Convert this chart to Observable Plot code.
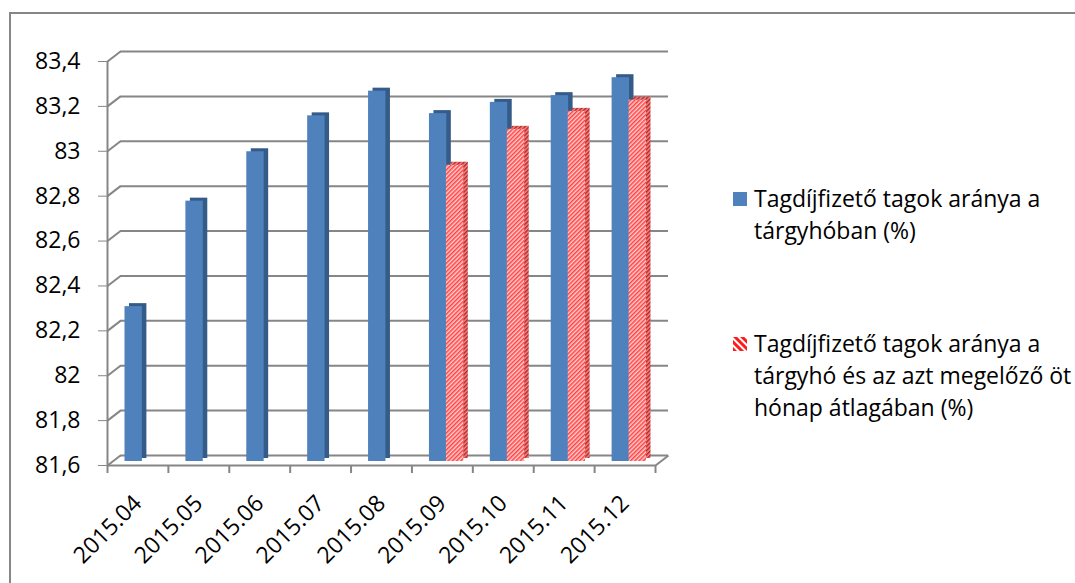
<!DOCTYPE html>
<html><head><meta charset="utf-8">
<script src="https://cdn.jsdelivr.net/npm/d3@7"></script>
<script src="https://cdn.jsdelivr.net/npm/@observablehq/plot@0.6"></script>
<style>
body{margin:0;background:#fff;font-family:"Open Sans", sans-serif;}
#frame{position:absolute;left:9px;top:12px;width:1090px;height:620px;border:2px solid #868686;box-sizing:border-box;}
#chart{position:absolute;left:0;top:0;}
#chart svg text{fill:#000;}
.legend-item{position:absolute;left:733px;display:flex;align-items:flex-start;}
.sw{width:14px;height:14px;margin-top:10px;margin-right:7px;flex:none;display:block}
.lt{width:320px;font-size:23px;line-height:32px;color:#000}
</style></head><body>
<div id="frame"></div>
<div id="chart"></div>
<div id="legend"></div>
<script>
// ---- data ----
const months = ["2015.04","2015.05","2015.06","2015.07","2015.08","2015.09","2015.10","2015.11","2015.12"];
const seriesMonthly = [82.29, 82.76, 82.98, 83.14, 83.25, 83.15, 83.20, 83.23, 83.31];
const seriesSixMonth = [null, null, null, null, null, 82.92, 83.08, 83.16, 83.21];
const seriesNames = [
  "Tagdíjfizető tagok aránya a tárgyhóban (%)",
  "Tagdíjfizető tagok aránya a tárgyhó és az azt megelőző öt hónap átlagában (%)"
];
const yTicks = [81.6, 81.8, 82, 82.2, 82.4, 82.6, 82.8, 83, 83.2, 83.4];
const yTickLabels = ["81,6","81,8","82","82,2","82,4","82,6","82,8","83","83,2","83,4"];

// ---- layout ----
const W = 700, H = 583, mL = 107, mR = 45, mT = 61, mB = 118;
const yMin = yTicks[0], yMax = yTicks[yTicks.length - 1];
const n = months.length;
const kx = n / (W - mL - mR);            // data units per px (x)
const ky = (yMax - yMin) / (H - mT - mB); // data units per px (y)
const DX = 13, DY = 10;                    // 3D depth in px
const grid = "#868686";

const rows = months.map((m, i) => ({i, m, a: seriesMonthly[i], b: seriesSixMonth[i]}));
const rowsB = rows.filter(d => d.b != null);

const barA = {x1: d => d.i, x2: d => d.i + 1, y1: () => yMin, y2: d => d.a, insetLeft: 13.5, insetRight: 30};
const barB = {x1: d => d.i, x2: d => d.i + 1, y1: () => yMin, y2: d => d.b, insetLeft: 30.5, insetRight: 13};

const chart = Plot.plot({
  width: W, height: H,
  marginLeft: mL, marginRight: mR, marginTop: mT, marginBottom: mB,
  style: {fontSize: "23px", fontFamily: "'Open Sans', sans-serif", color: grid, background: "transparent"},
  x: {domain: [0, n], ticks: months.map((m, i) => i + 0.5),
      tickFormat: v => months[Math.floor(v)], tickRotate: -45, tickSize: 0, tickPadding: 34, label: null},
  y: {domain: [yMin, yMax], ticks: yTicks,
      tickFormat: v => yTickLabels[yTicks.findIndex(t => Math.abs(t - v) < 1e-9)],
      tickSize: 9, tickPadding: 18, label: null},
  marks: [
    // back wall gridlines
    Plot.ruleY(yTicks, {dx: DX, dy: -DY, stroke: grid, strokeWidth: 2}),
    // left wall diagonals
    Plot.link(yTicks, {x1: () => 0, x2: () => DX * kx, y1: d => d, y2: d => d + DY * ky, stroke: grid, strokeWidth: 2}),
    // floor right edge
    Plot.link([yMin], {x1: () => n, x2: () => n + DX * kx, y1: d => d, y2: d => d + DY * ky, stroke: grid, strokeWidth: 2}),
    // floor front edge and front axis
    Plot.ruleY([yMin], {stroke: grid, strokeWidth: 2}),
    Plot.ruleX([0], {y1: yMin, y2: yMax, stroke: grid, strokeWidth: 2}),
    // category boundary ticks
    Plot.ruleX(d3.range(n + 1), {y1: yMin, y2: yMin - 8 * ky, stroke: grid, strokeWidth: 2}),
    // series A (3D: shadow + front)
    Plot.rectY(rows, {...barA, dx: 8.5, dy: -7, fill: "#355b89"}),
    Plot.rectY(rows, {...barA, dx: 4, dy: -4, fill: "#4f81bd"}),
    // series B
    Plot.rectY(rowsB, {...barB, dx: 8.5, dy: -7, fill: "url(#hatchDark)"}),
    Plot.rectY(rowsB, {...barB, dx: 4, dy: -4, fill: "url(#hatch)"})
  ]
});

// hatch patterns
const defs = d3.select(chart).insert("defs", ":first-child");
function addPattern(id, bg, fg) {
  const p = defs.append("pattern").attr("id", id).attr("patternUnits", "userSpaceOnUse")
    .attr("width", 3).attr("height", 3).attr("patternTransform", "rotate(45)");
  p.append("rect").attr("width", 3).attr("height", 3).attr("fill", bg);
  p.append("rect").attr("width", 1.5).attr("height", 3).attr("fill", fg);
}
addPattern("hatch", "#ffd0d0", "#ff4040");
addPattern("hatchDark", "#e89090", "#c02020");
document.getElementById("chart").appendChild(chart);

// legend
const legend = document.getElementById("legend");
const tops = [182, 327];
const swatches = [
  `<svg class="sw" viewBox="0 0 14 14"><rect width="14" height="14" fill="#4f81bd"/></svg>`,
  `<svg class="sw" viewBox="0 0 14 14"><defs><pattern id="lgh" patternUnits="userSpaceOnUse" width="5" height="5" patternTransform="rotate(-45)"><rect width="5" height="5" fill="#fff"/><rect width="3" height="5" fill="#ff1a1a"/></pattern></defs><rect width="14" height="14" fill="url(#lgh)"/></svg>`
];
seriesNames.forEach((name, k) => {
  const item = document.createElement("div");
  item.className = "legend-item";
  item.style.top = tops[k] + "px";
  item.innerHTML = swatches[k] + `<div class="lt"></div>`;
  item.querySelector(".lt").textContent = name;
  legend.appendChild(item);
});
</script>
</body></html>
